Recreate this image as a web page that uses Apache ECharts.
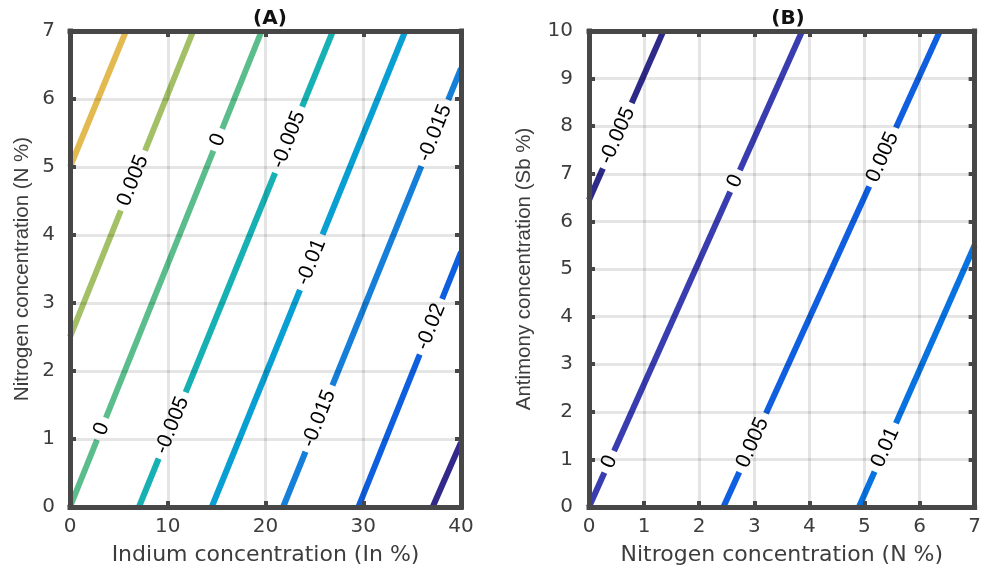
<!DOCTYPE html>
<html>
<head>
<meta charset="utf-8">
<script src="https://cdn.jsdelivr.net/npm/echarts@6/dist/echarts.min.js"></script>
<style>html,body{margin:0;padding:0;background:#fff}#c{width:984px;height:574px}</style>
</head>
<body>
<div id="c"></div>
<script>
// ---------- Panel A data ----------
const levelsA = ['0.01', '0.005', '0', '-0.005', '-0.01', '-0.015', '-0.02', '-0.025'];
const colorsA = ['#e2ba50', '#a3c066', '#5bbd8b', '#17b1b4', '#08a0d2', '#157fd9', '#0d5fe0', '#33298a'];
const startA = [[0, 5], [0, 2.5], [0, 0], [7.05, 0], [14.5, 0], [21.8, 0], [29.5, 0], [37.1, 0]];
const endA = [[5.73, 7], [12.6, 7], [19.6, 7], [26.9, 7], [34.3, 7], [40, 6.45], [40, 3.75], [40, 0.95]];
const labelTextA = ['0.005', '0', '0', '-0.005', '-0.005', '-0.01', '-0.015', '-0.015', '-0.02'];
const labelPosA = [[6.44, 4.8], [15.12, 5.4], [3.22, 1.15], [22.36, 5.4], [10.45, 1.2], [24.68, 3.6], [37.32, 5.5], [25.47, 1.3], [36.92, 2.65]];
const xTicksA = [0, 10, 20, 30, 40];
const yTicksA = [0, 1, 2, 3, 4, 5, 6, 7];

// ---------- Panel B data ----------
const levelsB = ['-0.005', '0', '0.005', '0.01'];
const colorsB = ['#2e2a88', '#3a3daf', '#0f5fe0', '#0873e0'];
const startB = [[0, 6.45], [0, 0], [2.44, 0], [4.9, 0]];
const endB = [[1.35, 10], [3.87, 10], [6.37, 10], [7, 5.5]];
const labelTextB = ['-0.005', '0', '0', '0.005', '0.005', '0.01'];
const labelPosB = [[0.513, 7.8], [2.65, 6.85], [0.368, 0.95], [5.33, 7.35], [2.97, 1.35], [5.38, 1.25]];
const xTicksB = [0, 1, 2, 3, 4, 5, 6, 7];
const yTicksB = [0, 1, 2, 3, 4, 5, 6, 7, 8, 9, 10];

const FONT_H = '"DejaVu Sans", Verdana, sans-serif';
const FONT_V = '"Liberation Sans", Arial, Helvetica, sans-serif';
const FRAME = '#474747';
const TXT = '#3d3d3d';

function axisPair(kind, gridIndex, ticks, name, nameGap, labelMargin, nameSize) {
  const min = ticks[0], max = ticks[ticks.length - 1];
  const interval = ticks[1] - ticks[0];
  const base = {
    type: 'value', gridIndex, min, max, interval, z: 10,
    axisLine: { show: true, onZero: false, lineStyle: { color: FRAME, width: 5, cap: 'square' } },
    axisTick: { show: true, inside: true, length: 6, lineStyle: { color: FRAME, width: 4 } },
  };
  const main = Object.assign({}, base, {
    position: kind === 'x' ? 'bottom' : 'left',
    name, nameLocation: 'middle', nameGap,
    nameTextStyle: { fontFamily: kind === 'x' ? FONT_H : FONT_V, fontSize: nameSize, color: TXT },
    axisLabel: { show: true, margin: labelMargin, fontFamily: FONT_H, fontSize: 20, color: TXT },
    splitLine: { show: true, lineStyle: { color: 'rgba(0,0,0,0.1)', width: 3 } }
  });
  const other = Object.assign({}, base, {
    position: kind === 'x' ? 'top' : 'right',
    axisLabel: { show: false },
    splitLine: { show: false }
  });
  return [main, other];
}

// axis order: 0,1 -> panel A (main, mirror); 2,3 -> panel B (main, mirror)
const xAxes = [
  ...axisPair('x', 0, xTicksA, 'Indium concentration (In %)', 37, 10, 22),
  ...axisPair('x', 1, xTicksB, 'Nitrogen concentration (N %)', 37, 10, 22)
];
const yAxes = [
  ...axisPair('y', 0, yTicksA, 'Nitrogen concentration (N %)', 37, 15, 20.5),
  ...axisPair('y', 1, yTicksB, 'Antimony concentration (Sb %)', 54, 16, 20.5)
];

const series = [];
function addPanel(levels, colors, starts, ends, labTexts, labPos, axIdx, rot) {
  levels.forEach((lv, i) => {
    series.push({
      type: 'line', name: lv, xAxisIndex: axIdx, yAxisIndex: axIdx,
      data: [starts[i], ends[i]], symbol: 'none', z: 2, silent: true,
      lineStyle: { color: colors[i], width: 6 }
    });
  });
  series.push({
    type: 'scatter', xAxisIndex: axIdx, yAxisIndex: axIdx, symbolSize: 1, z: 3, silent: true,
    data: labTexts.map((t, i) => ({ name: t, value: labPos[i] })),
    itemStyle: { color: 'rgba(255,255,255,0)' },
    label: {
      show: true, position: 'inside', formatter: p => p.name, rotate: rot,
      fontFamily: FONT_V, fontSize: 21, color: '#000', opacity: 1,
      backgroundColor: '#fff', padding: [1, 6]
    }
  });
}
addPanel(levelsA, colorsA, startA, endA, labelTextA, labelPosA, 0, 68);
addPanel(levelsB, colorsB, startB, endB, labelTextB, labelPosB, 2, 66);

const chart = echarts.init(document.getElementById('c'), null, { renderer: 'canvas' });
chart.setOption({
  backgroundColor: '#fff',
  animation: false,
  title: [
    { text: '(A)', left: 265, top: 4, textAlign: 'center', textStyle: { fontFamily: FONT_H, fontSize: 20, fontWeight: 'bold', color: '#111' } },
    { text: '(B)', left: 783, top: 4, textAlign: 'center', textStyle: { fontFamily: FONT_H, fontSize: 20, fontWeight: 'bold', color: '#111' } }
  ],
  grid: [
    { left: 70, right: 523, top: 31, bottom: 67 },
    { left: 589, right: 7, top: 31, bottom: 67 }
  ],
  xAxis: xAxes,
  yAxis: yAxes,
  series
});
</script>
</body>
</html>
